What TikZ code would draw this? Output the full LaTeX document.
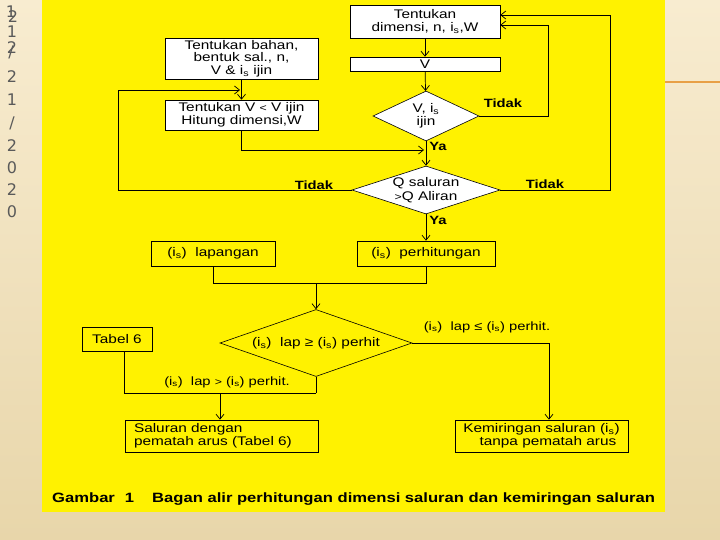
\documentclass[tikz,border=0pt]{standalone}
\usepackage{fontspec}
\setmainfont{Liberation Sans}[FakeStretch=1.23]
\newfontfamily\datefont{DejaVu Sans}
\usetikzlibrary{shapes.geometric,arrows.meta,calc}
\definecolor{slidetop}{RGB}{248,236,208}
\definecolor{slidebot}{RGB}{232,214,170}
\definecolor{dategray}{RGB}{90,90,90}
\definecolor{orangeline}{RGB}{232,160,70}
\tikzset{
  box/.style={draw=black, line width=0.6pt, rectangle, inner sep=0pt, align=center,
    font=\fontsize{12.5}{12.5}\selectfont},
  wbox/.style={box, fill=white},
  dia/.style={draw=black, line width=0.6pt, diamond, inner sep=0pt},
  dtext/.style={inner sep=0pt, align=center, font=\fontsize{12.5}{13.5}\selectfont},
  arr/.style={-{Straight Barb[length=5pt,width=8pt]}, line width=0.7pt},
  ln/.style={line width=0.7pt},
  lbl/.style={font=\bfseries\fontsize{12}{14}\selectfont, inner sep=0pt},
  txt/.style={font=\fontsize{12}{14}\selectfont, inner sep=0pt},
  captxt/.style={font=\bfseries\fontsize{13.5}{15}\selectfont, inner sep=0pt},
  dch/.style={font=\datefont\fontsize{16}{16}\selectfont, text=dategray, inner sep=0pt}
}
\begin{document}
\begin{tikzpicture}[x=1pt,y=-1pt]
\useasboundingbox (0,0) rectangle (720,540);
\shade[top color=slidetop, bottom color=slidebot] (0,0) rectangle (720,540);
\draw[orangeline, line width=1.5pt] (665,82) -- (720,82);
\fill[yellow] (42,0) rectangle (665,512);

% date column
\node[dch] (c1) at (11,12) {1};
\node[dch] (c2) at (13,17) {2};
\node[dch] (c3) at (12,32) {1};
\node[dch] (c4) at (12,48) {2};
\node[dch] (c5) at (11,52) {/};
\node[dch] (c6) at (12,77) {2};
\node[dch] (c7) at (12,100) {1};
\node[dch] (c8) at (12,123) {/};
\node[dch] (c9) at (12,146) {2};
\node[dch] (c10) at (12,168) {0};
\node[dch] (c11) at (12,190) {2};
\node[dch] (c12) at (12,212) {0};

% nodes
\node[wbox, minimum width=150pt, minimum height=33pt] (top) at (425,21.5)
  {Tentukan\\dimensi, n, i\textsubscript{s},W};
\node[wbox, minimum width=150pt, minimum height=14pt] (v) at (425,64) {V};
\node[dia, fill=white, minimum width=106pt, minimum height=50pt,
  label={[dtext]center:V, i\textsubscript{s}\\ijin}] (d1) at (426,116) {};
\node[wbox, minimum width=153pt, minimum height=41pt] (b1) at (241.5,58.5)
  {Tentukan bahan,\\bentuk sal., n,\\V \& i\textsubscript{s} ijin};
\node[wbox, minimum width=153pt, minimum height=30pt] (b2) at (241.5,115)
  {Tentukan V {\fontsize{10}{10}\selectfont<} V ijin\\Hitung dimensi,W};
\node[dia, fill=white, minimum width=148pt, minimum height=48pt,
  label={[dtext]center:Q saluran\\{\fontsize{10}{10}\selectfont>}Q Aliran}] (qd) at (426,190) {};
\node[box, minimum width=124pt, minimum height=25pt] (lap) at (213,253.5)
  {(i\textsubscript{s})\ \ lapangan};
\node[box, minimum width=138pt, minimum height=25pt] (perh) at (426,253.5)
  {(i\textsubscript{s})\ \ perhitungan};
\node[dia, minimum width=192pt, minimum height=67pt,
  label={[dtext]center:(i\textsubscript{s})\ \ lap ≥ (i\textsubscript{s}) perhit}] (d3) at (316,343) {};
\node[box, minimum width=70pt, minimum height=24pt] (tab) at (117,339) {Tabel 6};
\node[box, minimum width=193pt, minimum height=32pt, text width=175pt, align=left] (sal) at (221.5,436)
  {Saluran dengan\\pematah arus (Tabel 6)};
\node[box, minimum width=173pt, minimum height=32pt] (kem) at (541.5,436)
  {Kemiringan saluran (i\textsubscript{s})\\\ \ \ tanpa pematah arus};

% coordinates
\coordinate (r1) at (548,25);
\coordinate (r2) at (610,15);
\coordinate (l1) at (118,90);
\coordinate (j2) at (240,90);
\coordinate (j1) at (424,150);
\coordinate (m1) at (316,283);
\coordinate (m2) at (316,393);
\coordinate (m3) at (220,393);
\coordinate (k1) at (549,343);

% connectors
\draw[arr] (top) -- (v);
\draw[arr] (v) -- (d1);
\draw[arr] (d1.east) -| (r1) -- (top.east |- r1);
\draw[arr] (qd.east) -| (r2) -- (top.east |- r2);
\draw[arr] (b1) -- (b2);
\draw[arr] (b2.south) |- (j1);
\draw[arr] (d1) -- (qd);
\draw[arr] (qd.west) -| (l1) -- (j2);
\draw[arr] (qd) -- (perh);
\draw[ln] (lap.south) |- (m1);
\draw[ln] (perh.south) |- (m1);
\draw[arr] (m1) -- (d3.north);
\draw[ln] (d3.south) -- (m2);
\draw[ln] ([xshift=7pt]tab.south) |- (m2);
\draw[arr] (m3) -- (sal.north -| m3);
\draw[ln] (d3.east) -- (k1);
\draw[arr] (k1) -- (kem.north -| k1);

% labels
\node[lbl] (t1) at (503,103) {Tidak};
\node[lbl] (t2) at (545,184) {Tidak};
\node[lbl] (t3) at (314,185) {Tidak};
\node[lbl] (y1) at (438,146) {Ya};
\node[lbl] (y2) at (438,220) {Ya};
\node[txt] (e1) at (487,327) {(i\textsubscript{s})\ \ lap ≤ (i\textsubscript{s}) perhit.};
\node[txt] (e2) at (227,382) {(i\textsubscript{s})\ \ lap {\fontsize{10}{10}\selectfont>} (i\textsubscript{s}) perhit.};

% caption
\node[captxt, anchor=west] (cap) at (52,499)
  {Gambar\hspace{10pt}1\hspace{18pt}Bagan alir perhitungan dimensi saluran dan kemiringan saluran};
\end{tikzpicture}
\end{document}
